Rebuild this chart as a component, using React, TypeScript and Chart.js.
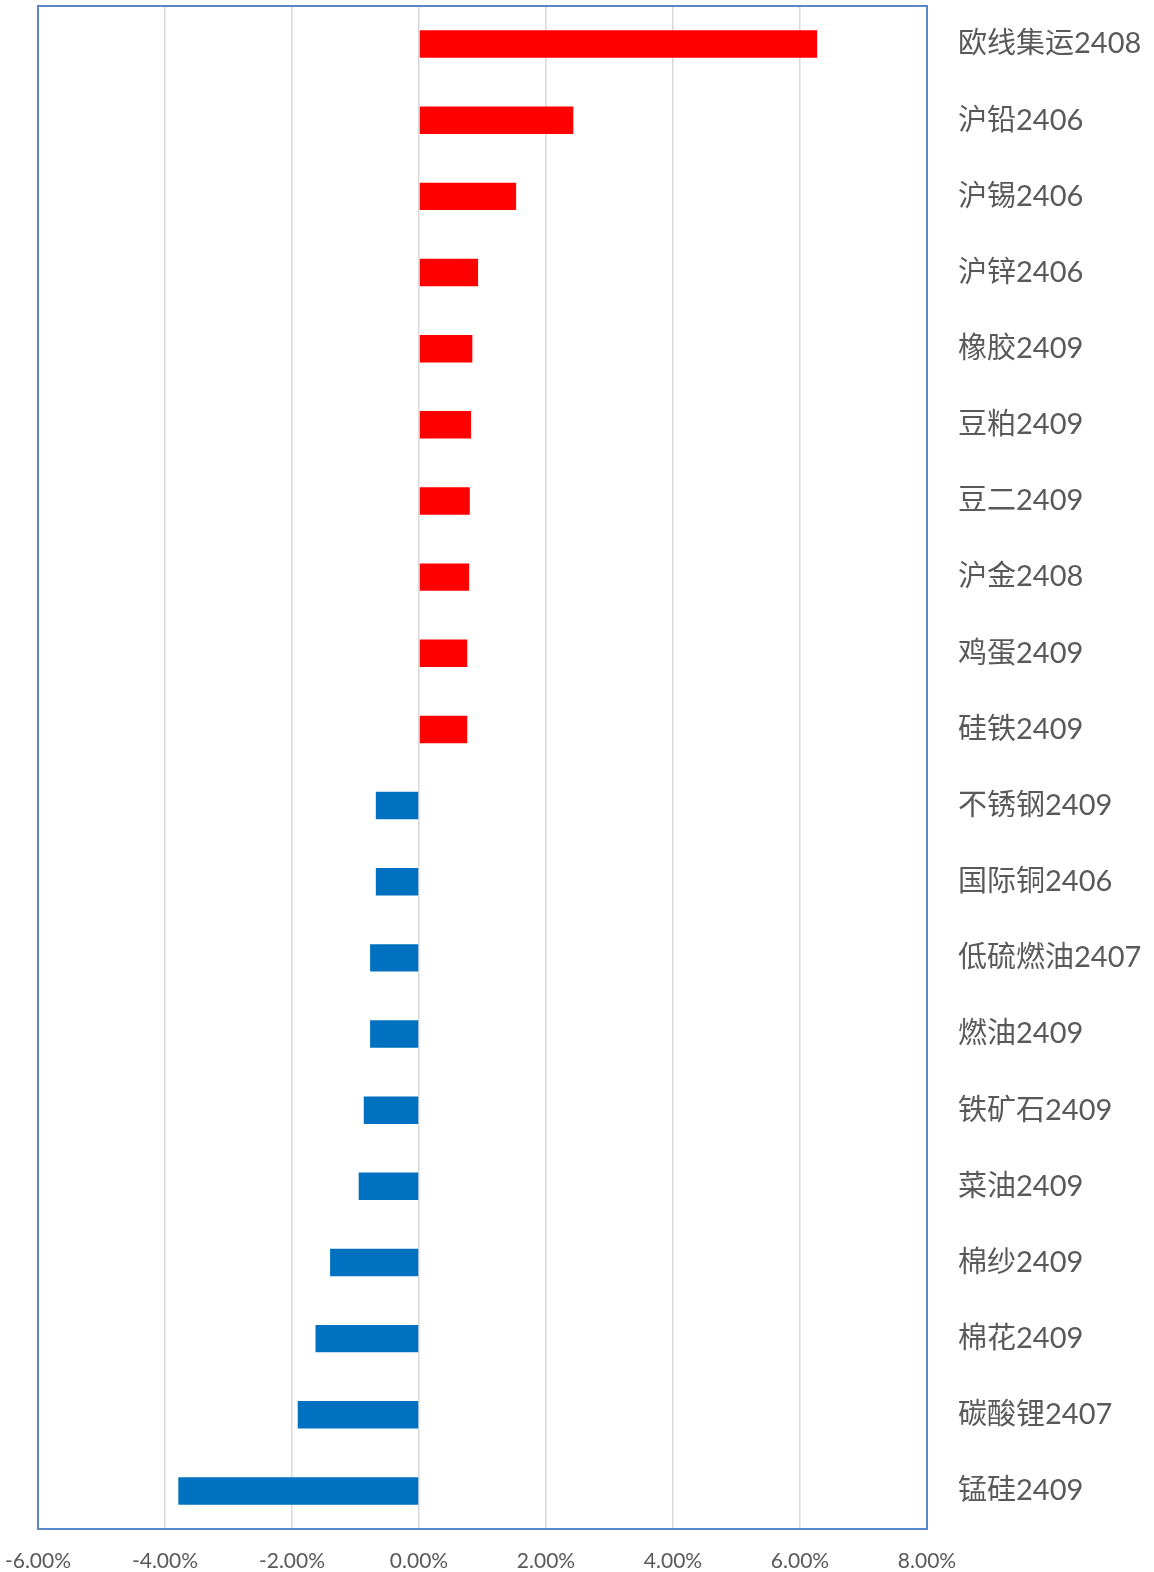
import React, { useEffect, useRef } from "react";
import { Chart, registerables } from "chart.js";

Chart.register(...registerables);

const categories = [
  "欧线集运2408", "沪铅2406", "沪锡2406", "沪锌2406", "橡胶2409",
  "豆粕2409", "豆二2409", "沪金2408", "鸡蛋2409", "硅铁2409",
  "不锈钢2409", "国际铜2406", "低硫燃油2407", "燃油2409", "铁矿石2409",
  "菜油2409", "棉纱2409", "棉花2409", "碳酸锂2407", "锰硅2409",
];
const changes = [
  6.27, 2.43, 1.53, 0.93, 0.84,
  0.82, 0.80, 0.79, 0.76, 0.76,
  -0.68, -0.68, -0.77, -0.77, -0.87,
  -0.95, -1.40, -1.63, -1.91, -3.79,
];
const xMin = -6;
const xMax = 8;
const xStep = 2;

const UP = "#FF0000";
const DOWN = "#0070C0";
const TEXT = "#595959";

const borderPlugin = {
  id: "plotBorder",
  afterDraw(chart: any) {
    const { ctx, chartArea } = chart;
    ctx.save();
    ctx.strokeStyle = "#5B87C6";
    ctx.lineWidth = 2;
    ctx.strokeRect(chartArea.left, chartArea.top, chartArea.right - chartArea.left, chartArea.bottom - chartArea.top);
    ctx.restore();
  },
};

export default function App() {
  const ref = useRef<HTMLCanvasElement>(null);
  useEffect(() => {
    document.body.style.margin = "0";
    const chart = new Chart(ref.current!, {
      type: "bar",
      data: {
        labels: categories,
        datasets: [
          {
            data: changes,
            backgroundColor: changes.map((v) => (v >= 0 ? UP : DOWN)),
            barPercentage: 0.36,
            categoryPercentage: 1,
          },
        ],
      },
      options: {
        indexAxis: "y",
        animation: false,
        responsive: false,
        maintainAspectRatio: false,
        layout: { padding: { left: 38, top: 6, right: 0, bottom: 0 } },
        plugins: { legend: { display: false }, tooltip: { enabled: false } },
        scales: {
          x: {
            min: xMin,
            max: xMax,
            border: { display: false },
            grid: { color: "#D9D9D9", lineWidth: 1.5, drawTicks: false },
            ticks: {
              stepSize: xStep,
              padding: 20,
              color: TEXT,
              font: { family: "Lato, 'Noto Sans CJK SC', sans-serif", size: 21 },
              callback: (v: any) => Number(v).toFixed(2) + "%",
            },
            afterFit: (s: any) => {
              s.height = 43;
              s.paddingLeft = 0;
              s.paddingRight = 0;
            },
          },
          y: {
            position: "right",
            border: { display: false },
            grid: { display: false, drawTicks: false },
            ticks: {
              padding: 31,
              color: TEXT,
              font: { family: "Lato, 'Noto Sans CJK SC', sans-serif", size: 29 },
            },
            afterFit: (s: any) => {
              s.width = 227;
              s.paddingTop = 0;
              s.paddingBottom = 0;
            },
          },
        },
      },
      plugins: [borderPlugin],
    });
    return () => chart.destroy();
  }, []);
  return (
    <div style={{ width: 1154, height: 1572 }}>
      <canvas ref={ref} width={1154} height={1572} style={{ display: "block" }} />
    </div>
  );
}
